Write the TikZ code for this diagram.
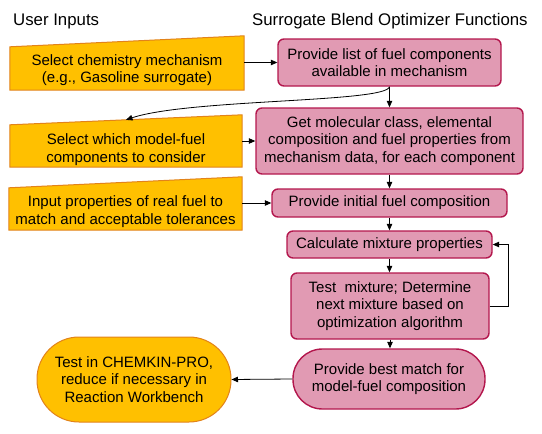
\documentclass[tikz,border=0pt]{standalone}
\usepackage{fontspec}
\setmainfont{Liberation Sans}
\usetikzlibrary{arrows.meta, backgrounds}
\definecolor{inputfill}{HTML}{FFC000}
\definecolor{inputline}{HTML}{E2831A}
\definecolor{funcfill}{HTML}{E19AB3}
\definecolor{funcline}{HTML}{B3174D}

\begin{document}
\begin{tikzpicture}[x=1pt, y=-1pt,
    every node/.style={font=\fontsize{15}{17.5}\selectfont, align=center,
        inner sep=0pt},
    header/.style={font=\fontsize{16.8}{19}\selectfont, anchor=west},
    inbox/.style={draw=none, minimum width=#1, minimum height=54pt},
    inshape/.style={draw=inputline, fill=inputfill, line width=1pt},
    func/.style={draw=funcline, fill=funcfill, line width=1.4pt,
        rounded corners=6pt},
    flow/.style={-{Triangle[length=6.5pt,width=5.5pt]}, line width=0.8pt}]

    \useasboundingbox (0,0) rectangle (542,434);

    \node[header] (hin) at (13,21.5) {User Inputs};
    \node[header] (hfun) at (252,21.5) {Surrogate Blend Optimizer Functions};

    \node[inbox=234pt] (in1) at (127,70)
        {Select chemistry mechanism\\(e.g., Gasoline surrogate)};
    \node[inbox=232pt] (in2) at (126,149.5)
        {Select which model-fuel\\components to consider};
    \node[inbox=233pt] (in3) at (125.5,211.5)
        {Input properties of real fuel to\\match and acceptable tolerances};

    \node[func, minimum width=223pt, minimum height=47pt] (p1) at (389.5,62.5)
        {Provide list of fuel components\\available in mechanism};
    \node[func, minimum width=267pt, minimum height=66pt] (p2) at (389.5,141)
        {Get molecular class, elemental\\composition and fuel properties from\\mechanism data, for each component};
    \node[func, minimum width=235pt, minimum height=28pt] (p3) at (389.5,203)
        {Provide initial fuel composition};
    \node[func, minimum width=205pt, minimum height=27pt] (p4) at (389.5,244.5)
        {Calculate mixture properties};
    \node[func, minimum width=198pt, minimum height=66pt] (p5) at (390,306)
        {Test\ \ mixture; Determine\\next mixture based on\\optimization algorithm};
    \node[func, rounded corners=29.5pt, minimum width=192pt, minimum height=60pt] (p6) at (389,379)
        {Provide best match for\\model-fuel composition};

    \node[inshape, rounded corners=42pt, minimum width=194pt, minimum height=85pt] (out) at (134,379.5)
        {Test in CHEMKIN-PRO,\\reduce if necessary in\\Reaction Workbench};

    \begin{scope}[on background layer]
        \foreach \n/\a/\b/\c in {in1/-4/7/7, in2/-2.5/7.5/9.5, in3/-3.5/7.5/8.5}
            \draw[inshape] ([yshift=\a pt]\n.north west) -- ([yshift=\b pt]\n.north east)
                -- ([yshift=\c pt]\n.south east) -- ([yshift=\c pt]\n.south west) -- cycle;
    \end{scope}

    \draw[flow] (in1.east |- p1.west) -- (p1.west);
    \draw[flow] (in2.east |- p2.west) -- (p2.west);
    \draw[flow] (in3.east |- p3.west) -- (p3.west);
    \draw[flow] (p1.south) .. controls +(-3,16) and +(63,-21) .. ([yshift=2.5pt]in2.north);
    \draw[flow] (p1.south) -- (p1.south |- p2.north);
    \draw[flow] (p2.south) -- (p2.south |- p3.north);
    \draw[flow] (p3.south) -- (p3.south |- p4.north);
    \draw[flow] (p4.south) -- (p4.south |- p5.north);
    \draw[flow] (p5.south) -- (p5.south |- p6.north);
    \draw[flow] (p5.east) -- ++(19,0) |- (p4.east);
    \draw[flow] (p6.west) -- (out.east);

\end{tikzpicture}
\end{document}
